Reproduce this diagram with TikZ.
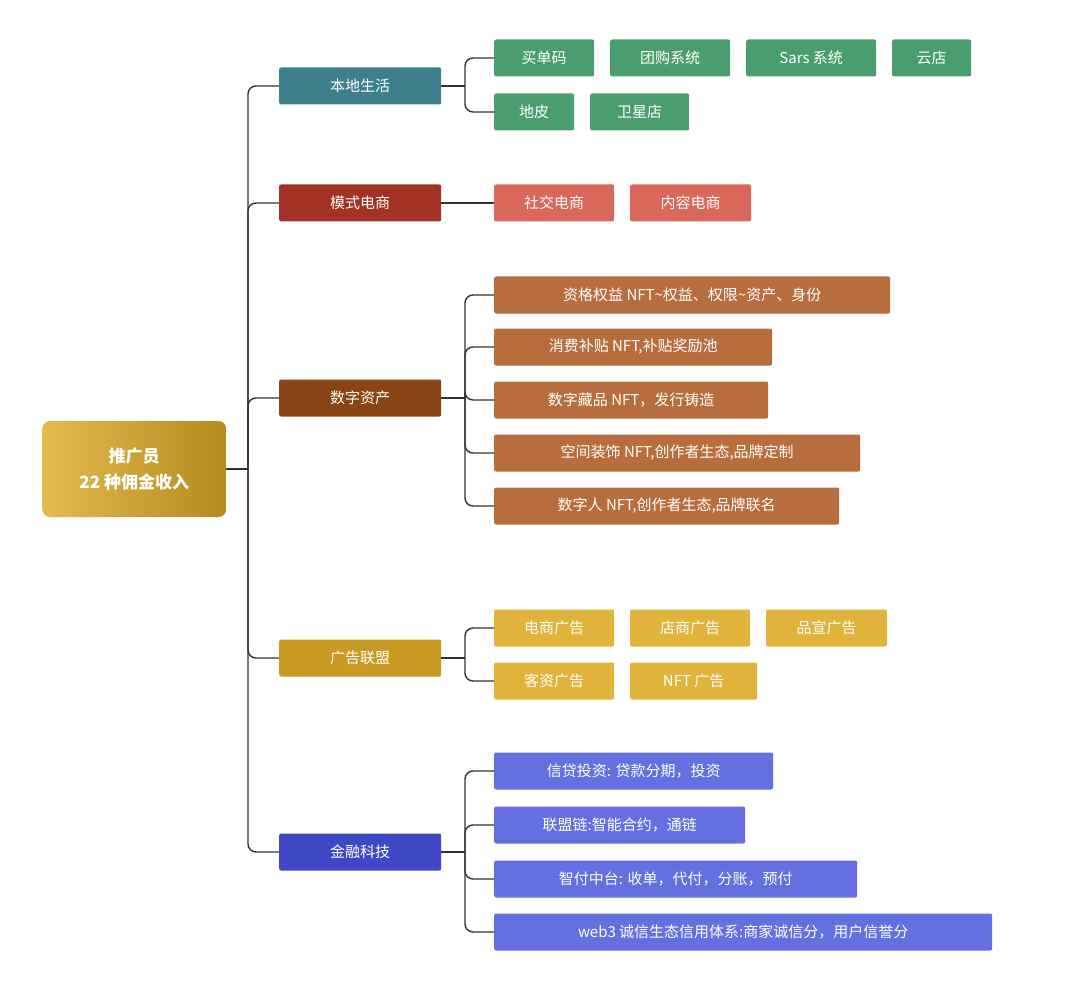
\documentclass[tikz,border=0pt]{standalone}
\usepackage{fontspec}
\setmainfont{Noto Sans CJK SC}
\begin{document}
\begin{tikzpicture}[x=1pt,y=-1pt,
 bx/.style={anchor=west,minimum height=37pt,inner sep=0pt,rounded corners=2pt,text=white,font=\fontsize{15}{18}\selectfont},
 lvl/.style={bx,minimum width=162pt},
 ln/.style={draw=black!80,line width=1.4pt,rounded corners=8pt}]
\useasboundingbox (0,0) rectangle (1076,984);
\fill[white] (0,0) rectangle (1076,984);
\definecolor{cteal}{HTML}{3D7F8A}\definecolor{cgreen}{HTML}{4A9E6E}
\definecolor{cdred}{HTML}{A33226}\definecolor{csal}{HTML}{D9675C}
\definecolor{cbrn}{HTML}{8A4416}\definecolor{clbrn}{HTML}{B86D3E}
\definecolor{cgold}{HTML}{C99A22}\definecolor{clgold}{HTML}{E0B33A}
\definecolor{cblue}{HTML}{3E48C4}\definecolor{clblue}{HTML}{6470E0}
\node[bx,minimum width=184pt,minimum height=96pt,rounded corners=8pt,left color=clgold!90!white,right color=cgold!90!black,align=center,font=\fontsize{17}{26}\selectfont\bfseries] (root) at (42,469) {推广员\\22 种佣金收入};
\node[lvl,fill=cteal] (l1) at (279,86) {本地生活};
\node[lvl,fill=cdred] (l2) at (279,203) {模式电商};
\node[lvl,fill=cbrn] (l3) at (279,398) {数字资产};
\node[lvl,fill=cgold] (l4) at (279,658) {广告联盟};
\node[lvl,fill=cblue] (l5) at (279,852) {金融科技};
\coordinate (tr) at (248,469);
\draw[ln] (root.east) -- (tr);
\foreach \n in {l1,l2,l3,l4,l5}{\draw[ln] (tr) |- (\n.west);}
% local
\tikzset{gbox/.style={bx,fill=cgreen}}
\node[gbox,minimum width=100pt] (a1) at (494,58) {买单码};
\node[gbox,minimum width=120pt] (a2) at (610,58) {团购系统};
\node[gbox,minimum width=130pt] (a3) at (746,58) {Sars 系统};
\node[gbox,minimum width=79pt] (a4) at (892,58) {云店};
\node[gbox,minimum width=80pt] (a5) at (494,112) {地皮};
\node[gbox,minimum width=99pt] (a6) at (590,112) {卫星店};
\coordinate (b1) at (465,86);
\draw[ln] (l1.east) -- (b1); \draw[ln] (b1) |- (a1.west); \draw[ln] (b1) |- (a5.west);
% model
\node[bx,fill=csal,minimum width=120pt] (m1) at (494,203) {社交电商};
\node[bx,fill=csal,minimum width=121pt] (m2) at (630,203) {内容电商};
\draw[ln] (l2.east) -- (m1.west);
% digital
\tikzset{dbox/.style={bx,fill=clbrn}}
\node[dbox,minimum width=396pt] (d1) at (494,295) {资格权益 NFT\textasciitilde 权益、权限\textasciitilde 资产、身份};
\node[dbox,minimum width=278pt] (d2) at (494,347) {消费补贴 NFT,补贴奖励池};
\node[dbox,minimum width=274pt] (d3) at (494,400) {数字藏品 NFT，发行铸造};
\node[dbox,minimum width=366pt] (d4) at (494,453) {空间装饰 NFT,创作者生态,品牌定制};
\node[dbox,minimum width=345pt] (d5) at (494,506) {数字人 NFT,创作者生态,品牌联名};
\coordinate (b3) at (465,398);
\draw[ln] (l3.east) -- (b3);
\foreach \n in {d1,d2,d3,d4,d5}{\draw[ln] (b3) |- (\n.west);}
% ads
\tikzset{ybox/.style={bx,fill=clgold}}
\node[ybox,minimum width=120pt] (g1) at (494,628) {电商广告};
\node[ybox,minimum width=120pt] (g2) at (630,628) {店商广告};
\node[ybox,minimum width=121pt] (g3) at (766,628) {品宣广告};
\node[ybox,minimum width=120pt] (g4) at (494,681) {客资广告};
\node[ybox,minimum width=127pt] (g5) at (630,681) {NFT 广告};
\coordinate (b4) at (465,658);
\draw[ln] (l4.east) -- (b4); \draw[ln] (b4) |- (g1.west); \draw[ln] (b4) |- (g4.west);
% fin
\tikzset{fbox/.style={bx,fill=clblue}}
\node[fbox,minimum width=279pt] (f1) at (494,771) {信贷投资: 贷款分期，投资};
\node[fbox,minimum width=251pt] (f2) at (494,825) {联盟链:智能合约，通链};
\node[fbox,minimum width=363pt] (f3) at (494,879) {智付中台: 收单，代付，分账，预付};
\node[fbox,minimum width=498pt] (f4) at (494,932) {web3 诚信生态信用体系:商家诚信分，用户信誉分};
\coordinate (b5) at (465,852);
\draw[ln] (l5.east) -- (b5);
\foreach \n in {f1,f2,f3,f4}{\draw[ln] (b5) |- (\n.west);}
\end{tikzpicture}
\end{document}
